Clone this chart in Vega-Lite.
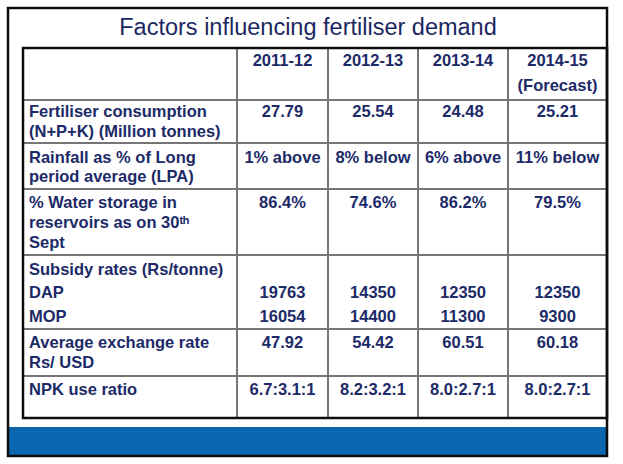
{
  "$schema": "https://vega.github.io/schema/vega-lite/v6.json",
  "width": 623,
  "height": 464,
  "autosize": {"type": "none"},
  "padding": 0,
  "background": "white",
  "config": {"view": {"stroke": null}},
  "datasets": {
    "boxes": [
      {"part": "band", "col": 0, "col_end": 12, "line": 25, "line_end": 26}
    ],
    "frames": [
      {"part": "table", "col": 1, "col_end": 12, "line": 2, "line_end": 24},
      {"part": "slide", "col": 0, "col_end": 12, "line": 0, "line_end": 26}
    ],
    "grid": [
      {"col": 3, "col_end": 3, "line": 2, "line_end": 24},
      {"col": 6, "col_end": 6, "line": 2, "line_end": 24},
      {"col": 8, "col_end": 8, "line": 2, "line_end": 24},
      {"col": 10, "col_end": 10, "line": 2, "line_end": 24},
      {"col": 1, "col_end": 12, "line": 5, "line_end": 5},
      {"col": 1, "col_end": 12, "line": 8, "line_end": 8},
      {"col": 1, "col_end": 12, "line": 11, "line_end": 11},
      {"col": 1, "col_end": 12, "line": 15, "line_end": 15},
      {"col": 1, "col_end": 12, "line": 19, "line_end": 19},
      {"col": 1, "col_end": 12, "line": 22, "line_end": 22}
    ],
    "title": [
      {"col": 5, "line": 1, "text": "Factors influencing fertiliser demand"}
    ],
    "labels": [
      {"col": 2, "line": 6, "text": "Fertiliser consumption"},
      {"col": 2, "line": 7, "text": "(N+P+K) (Million tonnes)"},
      {"col": 2, "line": 9, "text": "Rainfall as % of Long"},
      {"col": 2, "line": 10, "text": "period average (LPA)"},
      {"col": 2, "line": 12, "text": "% Water storage in"},
      {"col": 2, "line": 13, "text": "reservoirs as on 30ᵗʰ"},
      {"col": 2, "line": 14, "text": "Sept"},
      {"col": 2, "line": 16, "text": "Subsidy rates (Rs/tonne)"},
      {"col": 2, "line": 17, "text": "DAP"},
      {"col": 2, "line": 18, "text": "MOP"},
      {"col": 2, "line": 20, "text": "Average exchange rate"},
      {"col": 2, "line": 21, "text": "Rs/ USD"},
      {"col": 2, "line": 23, "text": "NPK use ratio"}
    ],
    "cells": [
      {"col": 4, "line": 3, "text": "2011-12"},
      {"col": 7, "line": 3, "text": "2012-13"},
      {"col": 9, "line": 3, "text": "2013-14"},
      {"col": 11, "line": 3, "text": "2014-15"},
      {"col": 11, "line": 4, "text": "(Forecast)"},
      {"col": 4, "line": 6, "text": "27.79"},
      {"col": 7, "line": 6, "text": "25.54"},
      {"col": 9, "line": 6, "text": "24.48"},
      {"col": 11, "line": 6, "text": "25.21"},
      {"col": 4, "line": 9, "text": "1% above"},
      {"col": 7, "line": 9, "text": "8% below"},
      {"col": 9, "line": 9, "text": "6% above"},
      {"col": 11, "line": 9, "text": "11% below"},
      {"col": 4, "line": 12, "text": "86.4%"},
      {"col": 7, "line": 12, "text": "74.6%"},
      {"col": 9, "line": 12, "text": "86.2%"},
      {"col": 11, "line": 12, "text": "79.5%"},
      {"col": 4, "line": 17, "text": "19763"},
      {"col": 7, "line": 17, "text": "14350"},
      {"col": 9, "line": 17, "text": "12350"},
      {"col": 11, "line": 17, "text": "12350"},
      {"col": 4, "line": 18, "text": "16054"},
      {"col": 7, "line": 18, "text": "14400"},
      {"col": 9, "line": 18, "text": "11300"},
      {"col": 11, "line": 18, "text": "9300"},
      {"col": 4, "line": 20, "text": "47.92"},
      {"col": 7, "line": 20, "text": "54.42"},
      {"col": 9, "line": 20, "text": "60.51"},
      {"col": 11, "line": 20, "text": "60.18"},
      {"col": 4, "line": 23, "text": "6.7:3.1:1"},
      {"col": 7, "line": 23, "text": "8.2:3.2:1"},
      {"col": 9, "line": 23, "text": "8.0:2.7:1"},
      {"col": 11, "line": 23, "text": "8.0:2.7:1"}
    ]
  },
  "encoding": {
    "x": {"field": "col", "type": "quantitative", "axis": null,
      "scale": {"domain": [0,1,2,3,4,5,6,7,8,9,10,11,12], "range": [8,23,29,237,282.5,308,328,373,418,463,508,557.5,607], "zero": false, "nice": false}},
    "y": {"field": "line", "type": "quantitative", "axis": null,
      "scale": {"domain": [0,1,2,3,4,5,6,7,8,9,10,11,12,13,14,15,16,17,18,19,20,21,22,23,24,25,26], "range": [8,28,48,61,86,100,111.5,131.5,143,158,177,189,203,223,243,255,270,293,317,329,343,363,376,390,418,427,456], "zero": false, "nice": false}}
  },
  "layer": [
    {
      "data": {"name": "boxes"},
      "mark": {"type": "rect", "fill": "#0A66AE", "stroke": null},
      "encoding": {"x2": {"field": "col_end"}, "y2": {"field": "line_end"}}
    },
    {
      "data": {"name": "grid"},
      "mark": {"type": "rule", "color": "#767676", "strokeWidth": 2},
      "encoding": {"x2": {"field": "col_end"}, "y2": {"field": "line_end"}}
    },
    {
      "data": {"name": "frames"},
      "mark": {"type": "rect", "fill": null, "fillOpacity": 0, "stroke": "#0d0d0d", "strokeWidth": 2.5},
      "encoding": {"x2": {"field": "col_end"}, "y2": {"field": "line_end"}}
    },
    {
      "data": {"name": "title"},
      "mark": {"type": "text", "align": "center", "baseline": "middle", "font": "Liberation Sans", "fontSize": 23.5, "fontWeight": "normal", "color": "#1B2862"},
      "encoding": {"text": {"field": "text"}}
    },
    {
      "data": {"name": "labels"},
      "mark": {"type": "text", "align": "left", "baseline": "middle", "font": "Liberation Sans", "fontSize": 16.5, "fontWeight": "bold", "color": "#1C2A68"},
      "encoding": {"text": {"field": "text"}}
    },
    {
      "data": {"name": "cells"},
      "mark": {"type": "text", "align": "center", "baseline": "middle", "font": "Liberation Sans", "fontSize": 16.5, "fontWeight": "bold", "color": "#1C2A68"},
      "encoding": {"text": {"field": "text"}}
    }
  ]
}
